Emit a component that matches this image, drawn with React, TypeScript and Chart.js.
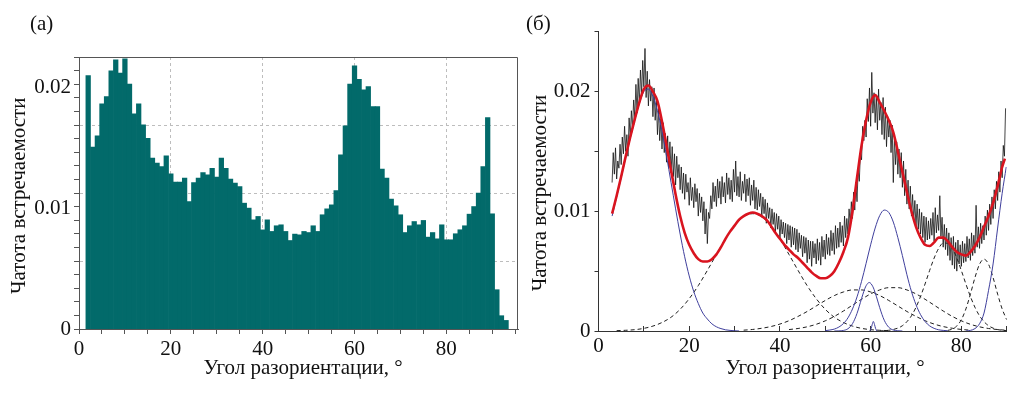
import React, { useEffect, useRef } from 'react';
import { Chart, registerables } from 'chart.js';

Chart.register(...registerables);

const SERIF = '"Liberation Serif", "Times New Roman", serif';
const Y_UNIT = 0.001; // all frequency arrays below are given in units of 0.001
const TEAL = '#026a6a';
const RED = '#d9141f';
const BLUE = '#3f3f9c';
const DASH = '#1e1e1e';

// ---------- Panel (а): histogram ----------
const histCenters = [
  2, 3, 4, 5, 6, 7, 8, 9, 10, 11,
  12, 13, 14, 15, 16, 17, 18, 19, 20, 21,
  22, 23, 24, 25, 26, 27, 28, 29, 30, 31,
  32, 33, 34, 35, 36, 37, 38, 39, 40, 41,
  42, 43, 44, 45, 46, 47, 48, 49, 50, 51,
  52, 53, 54, 55, 56, 57, 58, 59, 60, 61,
  62, 63, 64, 65, 66, 67, 68, 69, 70, 71,
  72, 73, 74, 75, 76, 77, 78, 79, 80, 81,
  82, 83, 84, 85, 86, 87, 88, 89, 90, 91,
  92, 93,
];
const histFreq = [
  20.96, 15.04, 15.98, 18.62, 19.22, 21.35, 22.26, 21.16, 22.34, 20.25,
  17.79, 18.62, 16.88, 15.78, 14.13, 13.72, 13.44, 14.32, 12.83, 12.15,
  12.15, 12.48, 10.55, 12.12, 12.48, 12.94, 12.75, 13.3, 12.56, 14.13,
  13.3, 12.4, 12.07, 11.79, 10.41, 10.0, 9.03, 9.31, 8.2, 9.03,
  8.07, 8.54, 8.62, 8.07, 7.32, 7.85, 7.79, 8.07, 7.98, 8.54,
  8.07, 9.45, 9.94, 10.27, 11.46, 14.4, 16.8, 20.27, 21.76, 20.66,
  19.78, 20.05, 18.4, 18.4, 13.22, 12.48, 10.74, 10.19, 9.45, 7.98,
  8.54, 8.89, 8.62, 8.98, 7.6, 7.98, 7.46, 8.62, 7.38, 7.38,
  7.88, 8.21, 8.54, 9.5, 10.13, 11.24, 13.44, 17.49, 9.53, 3.25,
  1.1, 0.71,
];
const xTicksA = [0, 5, 10, 15, 20, 25, 30, 35, 40, 45, 50, 55, 60, 65, 70, 75, 80, 85, 90, 95];
const xLabelsA = [0, 20, 40, 60, 80];
const yLabelsA = [0, 0.01, 0.02];
const yMinorTicksA = [0, 1, 2, 3, 4, 5, 6, 7, 8, 9, 10, 11, 12, 13, 14, 15, 16, 17, 18, 19, 20];
const yGridA = [5, 10, 15];

// ---------- Panel (б): measured spectrum and fit ----------
const noisyX = [
  3, 3.25, 3.5, 3.75, 4, 4.25, 4.5, 4.75,
  5, 5.25, 5.5, 5.75, 6, 6.25, 6.5, 6.75,
  7, 7.25, 7.5, 7.75, 8, 8.25, 8.5, 8.75,
  9, 9.25, 9.5, 9.75, 10, 10.25, 10.5, 10.75,
  11, 11.25, 11.5, 11.75, 12, 12.25, 12.5, 12.75,
  13, 13.25, 13.5, 13.75, 14, 14.25, 14.5, 14.75,
  15, 15.25, 15.5, 15.75, 16, 16.25, 16.5, 16.75,
  17, 17.25, 17.5, 17.75, 18, 18.25, 18.5, 18.75,
  19, 19.25, 19.5, 19.75, 20, 20.25, 20.5, 20.75,
  21, 21.25, 21.5, 21.75, 22, 22.25, 22.5, 22.75,
  23, 23.25, 23.5, 23.75, 24, 24.25, 24.5, 24.75,
  25, 25.25, 25.5, 25.75, 26, 26.25, 26.5, 26.75,
  27, 27.25, 27.5, 27.75, 28, 28.25, 28.5, 28.75,
  29, 29.25, 29.5, 29.75, 30, 30.25, 30.5, 30.75,
  31, 31.25, 31.5, 31.75, 32, 32.25, 32.5, 32.75,
  33, 33.25, 33.5, 33.75, 34, 34.25, 34.5, 34.75,
  35, 35.25, 35.5, 35.75, 36, 36.25, 36.5, 36.75,
  37, 37.25, 37.5, 37.75, 38, 38.25, 38.5, 38.75,
  39, 39.25, 39.5, 39.75, 40, 40.25, 40.5, 40.75,
  41, 41.25, 41.5, 41.75, 42, 42.25, 42.5, 42.75,
  43, 43.25, 43.5, 43.75, 44, 44.25, 44.5, 44.75,
  45, 45.25, 45.5, 45.75, 46, 46.25, 46.5, 46.75,
  47, 47.25, 47.5, 47.75, 48, 48.25, 48.5, 48.75,
  49, 49.25, 49.5, 49.75, 50, 50.25, 50.5, 50.75,
  51, 51.25, 51.5, 51.75, 52, 52.25, 52.5, 52.75,
  53, 53.25, 53.5, 53.75, 54, 54.25, 54.5, 54.75,
  55, 55.25, 55.5, 55.75, 56, 56.25, 56.5, 56.75,
  57, 57.25, 57.5, 57.75, 58, 58.25, 58.5, 58.75,
  59, 59.25, 59.5, 59.75, 60, 60.25, 60.5, 60.75,
  61, 61.25, 61.5, 61.75, 62, 62.25, 62.5, 62.75,
  63, 63.25, 63.5, 63.75, 64, 64.25, 64.5, 64.75,
  65, 65.25, 65.5, 65.75, 66, 66.25, 66.5, 66.75,
  67, 67.25, 67.5, 67.75, 68, 68.25, 68.5, 68.75,
  69, 69.25, 69.5, 69.75, 70, 70.25, 70.5, 70.75,
  71, 71.25, 71.5, 71.75, 72, 72.25, 72.5, 72.75,
  73, 73.25, 73.5, 73.75, 74, 74.25, 74.5, 74.75,
  75, 75.25, 75.5, 75.75, 76, 76.25, 76.5, 76.75,
  77, 77.25, 77.5, 77.75, 78, 78.25, 78.5, 78.75,
  79, 79.25, 79.5, 79.75, 80, 80.25, 80.5, 80.75,
  81, 81.25, 81.5, 81.75, 82, 82.25, 82.5, 82.75,
  83, 83.25, 83.5, 83.75, 84, 84.25, 84.5, 84.75,
  85, 85.25, 85.5, 85.75, 86, 86.25, 86.5, 86.75,
  87, 87.25, 87.5, 87.75, 88, 88.25, 88.5, 88.75,
  89, 89.25, 89.5, 89.75,
];
const noisyY = [
  12.4, 14.9, 13.1, 15.3, 12.7, 14.2, 13.6, 15.6,
  13.9, 16.2, 14.8, 17.1, 15.0, 16.4, 14.6, 17.8,
  16.1, 18.4, 16.9, 19.3, 17.8, 20.6, 18.2, 21.1,
  19.0, 21.8, 19.7, 22.6, 20.4, 23.6, 19.5, 21.7,
  18.8, 21.0, 19.2, 20.4, 17.9, 20.3, 17.6, 19.4,
  16.4, 18.6, 15.9, 17.7, 15.2, 17.4, 14.9, 16.5,
  14.1, 16.3, 13.6, 15.8, 13.2, 15.4, 12.9, 14.8,
  12.2, 14.6, 12.8, 13.9, 11.8, 13.7, 11.5, 13.2,
  11.0, 13.1, 11.6, 12.4, 10.5, 12.8, 10.9, 12.0,
  10.3, 12.3, 10.8, 11.9, 9.6, 11.5, 9.9, 11.2,
  9.2, 10.8, 8.1, 10.2, 7.3, 9.9, 9.4, 11.3,
  10.2, 12.4, 10.8, 12.1, 10.4, 12.7, 11.1, 12.5,
  10.6, 12.9, 11.2, 12.4, 10.7, 13.2, 11.4, 12.8,
  11.0, 12.6, 10.8, 13.5, 11.6, 14.2, 11.3, 12.9,
  11.2, 13.3, 10.9, 12.5, 11.5, 13.1, 10.8, 12.7,
  11.3, 12.8, 10.5, 12.2, 10.9, 12.6, 10.2, 12.0,
  10.1, 11.8, 10.4, 11.5, 9.5, 11.2, 9.8, 11.0,
  9.0, 10.7, 9.4, 10.3, 8.6, 10.2, 8.9, 9.9,
  8.2, 9.8, 8.5, 9.6, 7.7, 9.3, 8.1, 9.1,
  7.8, 9.0, 7.3, 8.9, 7.6, 8.8, 7.0, 8.7,
  7.2, 8.6, 6.8, 8.5, 6.6, 8.2, 6.9, 8.0,
  6.2, 7.9, 6.5, 7.8, 5.7, 7.6, 6.0, 7.5,
  5.4, 7.5, 6.1, 7.3, 5.6, 7.7, 5.9, 7.4,
  5.5, 7.9, 6.2, 7.6, 6.0, 8.1, 6.4, 7.8,
  6.3, 8.4, 6.7, 8.2, 6.4, 8.8, 6.9, 8.6,
  7.0, 9.1, 7.4, 8.8, 7.1, 9.6, 7.8, 9.4,
  8.1, 10.2, 8.9, 10.8, 9.4, 11.6, 10.1, 12.3,
  10.8, 13.6, 12.5, 14.9, 14.3, 17.1, 15.9, 17.6,
  16.2, 19.4, 17.5, 20.3, 17.1, 21.6, 18.2, 19.9,
  17.4, 19.6, 16.8, 20.2, 17.6, 19.1, 16.4, 19.5,
  16.0, 18.7, 15.4, 17.9, 16.2, 17.6, 14.9, 17.2,
  12.4, 16.3, 13.9, 15.8, 13.1, 15.2, 12.8, 14.9,
  12.0, 14.2, 11.3, 13.5, 10.6, 12.6, 10.2, 12.1,
  9.6, 11.4, 9.2, 10.9, 8.7, 10.6, 8.5, 10.2,
  8.1, 9.9, 7.8, 9.6, 7.4, 9.5, 7.6, 9.2,
  7.7, 9.4, 8.0, 9.9, 7.5, 10.3, 8.2, 9.7,
  8.4, 11.3, 7.9, 9.5, 7.0, 8.9, 6.8, 8.6,
  6.3, 8.2, 5.9, 7.8, 5.5, 7.9, 5.2, 7.4,
  5.0, 7.6, 5.6, 7.2, 5.4, 7.5, 5.7, 7.3,
  5.8, 7.9, 6.1, 7.7, 5.9, 8.2, 6.3, 8.0,
  6.5, 10.5, 7.0, 8.7, 6.9, 9.0, 7.3, 8.8,
  7.6, 9.6, 8.0, 10.1, 8.4, 10.6, 8.9, 11.2,
  9.4, 11.8, 10.2, 12.5, 10.9, 13.3, 11.6, 14.2,
  12.8, 15.5, 14.6, 18.6,
];

const fitX = [
  3, 4, 5, 6, 7, 8, 9, 10, 11, 12,
  13, 14, 15, 16, 17, 18, 19, 20, 21, 22,
  23, 24, 25, 26, 27, 28, 29, 30, 31, 32,
  33, 34, 35, 36, 37, 38, 39, 40, 41, 42,
  43, 44, 45, 46, 47, 48, 49, 50, 51, 52,
  53, 54, 55, 56, 57, 58, 59, 60, 61, 62,
  63, 64, 65, 66, 67, 68, 69, 70, 71, 72,
  73, 74, 75, 76, 77, 78, 79, 80, 81, 82,
  83, 84, 85, 86, 87, 88, 89, 89.6,
];
const fitY = [
  9.8, 11.3, 12.9, 14.6, 16.2, 17.7, 19.1, 20.2, 20.5, 20.0,
  19.2, 17.5, 15.5, 13.4, 11.4, 9.6, 8.2, 7.2, 6.5, 6.0,
  5.8, 5.8, 6.0, 6.4, 7.0, 7.7, 8.3, 8.8, 9.3, 9.6,
  9.8, 9.9, 9.8, 9.6, 9.3, 8.8, 8.2, 7.7, 7.2, 6.8,
  6.4, 6.1, 5.7, 5.3, 4.9, 4.6, 4.4, 4.4, 4.6, 5.0,
  5.7, 6.6, 7.8, 10.0, 12.8, 15.5, 17.6, 19.1, 19.7, 19.1,
  18.4, 17.6, 16.6, 15.0, 13.3, 11.6, 10.0, 8.7, 7.8, 7.2,
  7.1, 7.4, 7.8, 7.8, 7.5, 7.0, 6.6, 6.4, 6.3, 6.6,
  7.1, 7.8, 8.7, 9.6, 10.7, 12.1, 13.7, 14.4,
];

// solid (blue) components
const blue1X = [3, 4, 5, 6, 7, 8, 9, 10, 11, 12, 13, 14, 15, 16, 17, 18, 19, 20, 21, 22, 23, 24, 25, 26, 27, 28, 29, 30, 31];
const blue1Y = [9.6, 11.2, 12.8, 14.5, 16.1, 17.6, 19.0, 20.0, 20.2, 19.6, 18.4, 16.7, 14.6, 12.4, 10.2, 8.1, 6.2, 4.6, 3.3, 2.3, 1.5, 1.0, 0.6, 0.35, 0.2, 0.1, 0.05, 0.02, 0];
const blue2X = [50, 51, 52, 53, 54, 55, 56, 57, 58, 59, 60, 61, 62, 63, 64, 65, 66, 67, 68, 69, 70, 71, 72, 73, 74, 75, 76, 77];
const blue2Y = [0.03, 0.08, 0.16, 0.33, 0.62, 1.1, 1.84, 2.85, 4.15, 5.65, 7.2, 8.6, 9.64, 10.1, 9.9, 9.1, 7.8, 6.3, 4.7, 3.3, 2.2, 1.37, 0.79, 0.43, 0.22, 0.1, 0.05, 0.02];
const blue3X = [52, 53, 54, 55, 56, 57, 58, 58.5, 59, 59.7, 60.5, 61, 61.5, 62, 63, 64, 65, 66, 67];
const blue3Y = [0, 0.01, 0.045, 0.19, 0.61, 1.47, 2.71, 3.31, 3.78, 4.05, 3.7, 3.2, 2.59, 1.95, 0.9, 0.31, 0.08, 0.02, 0];
const blue4X = [59.8, 60.1, 60.35, 60.6, 60.85, 61.1, 61.4];
const blue4Y = [0, 0.2, 0.55, 0.8, 0.55, 0.2, 0];
const blue5X = [81, 82, 83, 84, 85, 86, 87, 88, 89, 89.9];
const blue5Y = [0, 0.05, 0.2, 0.6, 1.5, 3.4, 5.6, 8.6, 11.5, 13.7];

// dashed (black) components
const dash1X = [4, 6, 8, 10, 12, 14, 16, 18, 20, 22, 24, 26, 28, 30, 32, 34, 36, 38, 40, 42, 44, 46, 48, 50, 52, 54, 56, 58, 60, 62, 64];
const dash1Y = [0.03, 0.06, 0.11, 0.22, 0.41, 0.71, 1.15, 1.81, 2.7, 3.79, 5.06, 6.39, 7.7, 8.79, 9.55, 9.8, 9.55, 8.79, 7.7, 6.39, 5.06, 3.79, 2.7, 1.81, 1.15, 0.71, 0.41, 0.22, 0.11, 0.06, 0.03];
const dash2X = [32, 34, 36, 38, 40, 42, 44, 46, 48, 50, 52, 54, 56, 58, 60, 62, 64, 66, 68, 70, 72, 74, 76, 78, 80, 82];
const dash2Y = [0.07, 0.13, 0.23, 0.37, 0.58, 0.86, 1.22, 1.63, 2.09, 2.55, 2.96, 3.26, 3.43, 3.43, 3.26, 2.96, 2.55, 2.09, 1.63, 1.22, 0.86, 0.58, 0.37, 0.23, 0.13, 0.07];
const dash3X = [42, 44, 46, 48, 50, 52, 54, 56, 58, 60, 62, 64, 66, 68, 70, 72, 74, 76, 78, 80, 82, 84, 86, 88, 90];
const dash3Y = [0.12, 0.21, 0.35, 0.56, 0.85, 1.22, 1.67, 2.16, 2.65, 3.1, 3.43, 3.62, 3.62, 3.43, 3.1, 2.65, 2.16, 1.67, 1.22, 0.85, 0.56, 0.35, 0.21, 0.12, 0.06];
const dash4X = [62, 64, 66, 67, 68, 69, 70, 71, 72, 73, 74, 75, 76, 77, 78, 79, 80, 81, 82, 83, 84, 85, 86, 87, 88, 89, 90];
const dash4Y = [0.01, 0.06, 0.24, 0.44, 0.78, 1.27, 1.98, 2.88, 3.93, 5.05, 6.09, 6.9, 7.34, 7.34, 6.9, 6.09, 5.05, 3.93, 2.88, 1.98, 1.27, 0.78, 0.44, 0.24, 0.12, 0.06, 0.03];
const dash5X = [77, 78, 79, 80, 81, 82, 83, 84, 85, 86, 87, 88, 89, 90];
const dash5Y = [0.05, 0.16, 0.42, 0.94, 1.84, 3.08, 4.46, 5.57, 6.0, 5.57, 4.46, 3.08, 1.84, 0.94];

const xTicksB = [0, 10, 20, 30, 40, 50, 60, 70, 80, 90];
const xLabelsB = [0, 20, 40, 60, 80];
const yTicksB = [0, 0.005, 0.01, 0.015, 0.02, 0.025];
const yTickLabelsB = ['0', '', '0.01', '', '0.02', ''];

const TITLE_X = 'Угол разориентации, °';
const TITLE_Y = 'Чатота встречаемости';

const pts = (xs: number[], ys: number[]) => xs.map((x, i) => ({ x, y: ys[i] * Y_UNIT }));

const freeText = {
  id: 'freeText',
  afterDraw(chart: any, _args: any, opts: any) {
    const ctx = chart.ctx;
    for (const it of (opts && opts.items) || []) {
      ctx.save();
      ctx.translate(it.x, it.y);
      if (it.rotate) ctx.rotate(it.rotate);
      ctx.font = `${it.size || 21}px ${SERIF}`;
      ctx.fillStyle = '#111';
      ctx.textAlign = it.align || 'center';
      ctx.textBaseline = 'middle';
      ctx.fillText(it.text, 0, 0);
      ctx.restore();
    }
  },
};

const frame = {
  id: 'frame',
  afterDraw(chart: any, _args: any, opts: any) {
    if (!opts || !opts.enabled) return;
    const { ctx, chartArea } = chart;
    const { left, right, top } = chartArea;
    ctx.save();
    ctx.strokeStyle = '#555';
    ctx.lineWidth = 1;
    ctx.beginPath();
    const ty = Math.round(top) + 0.5;
    const rx = Math.round(right) - 0.5;
    ctx.moveTo(left, ty);
    ctx.lineTo(rx, ty);
    ctx.lineTo(rx, chartArea.bottom);
    ctx.stroke();
    ctx.restore();
  },
};

const tickFont = { family: SERIF, size: 21 };

export default function App() {
  const refA = useRef<HTMLCanvasElement | null>(null);
  const refB = useRef<HTMLCanvasElement | null>(null);

  useEffect(() => {
    const charts: Chart[] = [];
    if (refA.current) {
      charts.push(
        new Chart(refA.current, {
          type: 'bar',
          data: {
            datasets: [
              {
                data: pts(histCenters, histFreq),
                backgroundColor: TEAL,
                borderWidth: 0,
                barPercentage: 1,
                categoryPercentage: 1,
                grouped: false,
              } as any,
            ],
          },
          plugins: [freeText, frame] as any,
          options: {
            animation: false,
            responsive: false,
            devicePixelRatio: 1,
            layout: { padding: { top: 57, right: 2, left: 0, bottom: 0 } },
            plugins: {
              legend: { display: false },
              tooltip: { enabled: false },
              freeText: {
                items: [
                  { text: '(а)', x: 30, y: 24.5, align: 'left' },
                  { text: TITLE_X, x: 303, y: 368.5 },
                  { text: TITLE_Y, x: 19.8, y: 195.8, rotate: -Math.PI / 2 },
                ],
              },
              frame: { enabled: true },
            } as any,
            scales: {
              x: {
                type: 'linear',
                min: 0,
                max: 95.6,
                offset: false,
                afterBuildTicks: (s: any) => {
                  s.ticks = xTicksA.map((v) => ({ value: v }));
                },
                ticks: {
                  autoSkip: false,
                  maxRotation: 0,
                  padding: 3,
                  font: tickFont,
                  color: '#111',
                  callback: (v: any) => (xLabelsA.includes(v) ? String(v) : ''),
                },
                grid: {
                  offset: false,
                  color: (c: any) => {
                    const v = c.tick && c.tick.value;
                    return v && v % 20 === 0 ? '#bdbdbd' : 'rgba(0,0,0,0)';
                  },
                  tickColor: '#555',
                  tickLength: 5,
                },
                border: { color: '#555', dash: [3, 3] },
                afterFit: (s: any) => {
                  s.height = 64;
                },
              },
              y: {
                type: 'linear',
                position: 'left',
                weight: 1,
                min: 0,
                max: 0.0225,
                afterBuildTicks: (s: any) => {
                  s.ticks = yLabelsA.map((v) => ({ value: v }));
                },
                ticks: {
                  autoSkip: false,
                  padding: 3,
                  font: tickFont,
                  color: '#111',
                  callback: (v: any) => String(v),
                },
                grid: { display: false, drawTicks: false },
                border: { display: false },
                afterFit: (s: any) => {
                  s.width = 74;
                },
              },
              yg: {
                type: 'linear',
                position: 'left',
                weight: 0,
                min: 0,
                max: 20,
                afterBuildTicks: (s: any) => {
                  s.ticks = yMinorTicksA.map((v) => ({ value: v }));
                },
                ticks: { display: false, autoSkip: false },
                grid: {
                  color: (c: any) => {
                    const v = c.tick && c.tick.value;
                    return yGridA.includes(v) ? '#bdbdbd' : 'rgba(0,0,0,0)';
                  },
                  tickColor: '#555',
                  tickLength: 5,
                },
                border: { display: true, color: '#555', dash: [3, 3] },
                afterFit: (s: any) => {
                  s.width = 5;
                },
              },
            } as any,
          },
        })
      );
    }

    if (refB.current) {
      const comp = (xs: number[], ys: number[], color: string, dashed: boolean) => ({
        data: pts(xs, ys),
        borderColor: color,
        borderWidth: 1,
        borderDash: dashed ? [4, 3] : [],
        pointRadius: 0,
        tension: 0.4,
        cubicInterpolationMode: 'monotone',
        fill: false,
      });
      charts.push(
        new Chart(refB.current, {
          type: 'line',
          data: {
            datasets: [
              {
                data: pts(fitX, fitY),
                borderColor: RED,
                borderWidth: 2.6,
                pointRadius: 0,
                tension: 0.4,
                cubicInterpolationMode: 'monotone',
                fill: false,
              },
              comp(blue1X, blue1Y, BLUE, false),
              comp(blue2X, blue2Y, BLUE, false),
              comp(blue3X, blue3Y, BLUE, false),
              comp(blue4X, blue4Y, BLUE, false),
              comp(blue5X, blue5Y, BLUE, false),
              comp(dash1X, dash1Y, DASH, true),
              comp(dash2X, dash2Y, DASH, true),
              comp(dash3X, dash3Y, DASH, true),
              comp(dash4X, dash4Y, DASH, true),
              comp(dash5X, dash5Y, DASH, true),
              {
                data: pts(noisyX, noisyY),
                borderColor: '#141414',
                borderWidth: 0.8,
                pointRadius: 0,
                tension: 0,
                fill: false,
              },
            ] as any,
          },
          plugins: [freeText] as any,
          options: {
            animation: false,
            responsive: false,
            devicePixelRatio: 1,
            layout: { padding: { top: 31.7, right: 18.3, left: 0, bottom: 0 } },
            plugins: {
              legend: { display: false },
              tooltip: { enabled: false },
              freeText: {
                items: [
                  { text: '(б)', x: 6, y: 24.5, align: 'left' },
                  { text: TITLE_X, x: 305, y: 368.5 },
                  { text: TITLE_Y, x: 20, y: 193, rotate: -Math.PI / 2 },
                ],
              },
            } as any,
            scales: {
              x: {
                type: 'linear',
                min: 0,
                max: 90,
                afterBuildTicks: (s: any) => {
                  s.ticks = xTicksB.map((v) => ({ value: v }));
                },
                ticks: {
                  autoSkip: false,
                  maxRotation: 0,
                  padding: 8,
                  font: tickFont,
                  color: '#111',
                  callback: (v: any) => (xLabelsB.includes(v) ? String(v) : ''),
                },
                grid: { drawOnChartArea: false, tickLength: -5, tickColor: '#333' },
                border: { color: '#333' },
                afterFit: (s: any) => {
                  s.height = 62;
                },
              },
              y: {
                type: 'linear',
                min: 0,
                max: 0.025,
                afterBuildTicks: (s: any) => {
                  s.ticks = yTicksB.map((v) => ({ value: v }));
                },
                ticks: {
                  autoSkip: false,
                  padding: 4,
                  font: tickFont,
                  color: '#111',
                  callback: (_v: any, i: number) => yTickLabelsB[i],
                },
                grid: { drawOnChartArea: false, tickLength: 4, tickColor: '#333' },
                border: { color: '#333' },
                afterFit: (s: any) => {
                  s.width = 78.5;
                },
              },
            } as any,
          },
        })
      );
    }

    return () => {
      charts.forEach((c) => c.destroy());
    };
  }, []);

  return (
    <div
      style={{
        position: 'fixed',
        left: 0,
        top: 0,
        width: 1025,
        height: 393,
        background: '#fff',
        overflow: 'hidden',
      }}
    >
      <canvas ref={refA} width={520} height={393} style={{ position: 'absolute', left: 0, top: 0 }} />
      <canvas ref={refB} width={505} height={393} style={{ position: 'absolute', left: 520, top: 0 }} />
    </div>
  );
}
